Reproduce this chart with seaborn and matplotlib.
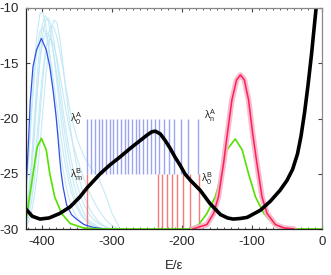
import numpy as np
import pandas as pd
import matplotlib
matplotlib.use("Agg")
import matplotlib.pyplot as plt
import seaborn as sns

# ---------------- data ----------------
black_E = [-423, -414, -403, -390, -375, -360, -346, -336, -317, -303, -289, -274, -260,
           -250, -243, -238, -231, -224, -217, -210, -203, -196, -188, -174, -160, -145,
           -135, -127, -117, -107, -88, -74, -60, -50, -42, -35, -30, -25, -20, -15, -10, -6]
black_v = [-28.2, -28.85, -29.1, -29.0, -28.6, -28.0, -27.1, -26.3, -25.0, -24.2, -23.5, -22.7, -22.0,
           -21.5, -21.2, -21.15, -21.4, -22.0, -22.7, -23.5, -24.2, -25.0, -25.6, -26.5, -27.7, -28.7,
           -29.0, -29.1, -29.05, -28.95, -28.3, -27.5, -26.5, -25.6, -24.6, -23.2, -21.6, -19.5, -17.0,
           -14.2, -11.0, -8.5]

blue_E = [-423, -421, -419, -417, -413, -408, -401, -394, -389, -384, -380, -377, -375,
          -373, -370, -365, -358, -351, -340, -327, -310]
blue_v = [-26.2, -24.0, -21.5, -18.5, -15.3, -13.8, -12.75, -13.8, -15.3, -17.6, -19.8, -21.9, -23.5,
          -24.8, -26.2, -27.8, -28.7, -29.1, -29.6, -29.85, -30.0]

green_E = [-423, -418, -413, -407, -401, -394, -389, -382, -372, -360, -341, -320, -190,
           -176, -164.5, -152.6, -143, -136, -124, -114, -105, -95, -83, -69, -55, -40, 0]
green_v = [-29.3, -27.1, -25.0, -22.6, -21.8, -22.85, -25.0, -27.1, -28.6, -29.5, -29.9, -30.0, -30.0,
           -29.6, -28.6, -27.1, -25.0, -22.85, -21.85, -22.85, -25.0, -27.1, -28.6, -29.6, -29.9, -30.0, -30.0]

red_E = [-185, -164.5, -155, -148, -140.7, -135.5, -128.7, -122, -116.5, -111, -105, -99,
         -93, -85.7, -78.5, -66.6, -54.7, -40]
red_v = [-30.0, -29.6, -28.6, -27.1, -24.05, -21.5, -18.3, -16.5, -16.06, -16.5, -18.3, -21.4,
         -24.05, -27.1, -28.6, -29.6, -29.9, -30.0]

cyan_E = [-423, -419, -415, -411, -407, -403, -399, -395, -391, -387, -383, -379, -375, -371,
          -367, -363, -359, -355, -350, -345, -340, -335, -330, -320, -310, -300, -290]
cyan_1 = [-27.0, -23.5, -19.0, -15.0, -12.2, -10.5, -10.4, -11.5, -13.3, -15.6, -18.0, -20.3, -22.4, -24.2,
          -25.7, -26.9, -27.8, -28.4, -29.0, -29.4, -29.6, -29.8, -29.9, -30.0, -30.0, -30.0, -30.0]
cyan_2 = [-29.0, -27.5, -25.0, -21.5, -17.8, -14.5, -12.3, -11.1, -10.9, -11.6, -13.0, -14.8, -16.8, -18.8,
          -20.6, -22.2, -23.6, -24.8, -26.0, -27.0, -27.8, -28.4, -28.9, -29.5, -29.8, -30.0, -30.0]
cyan_3 = [-29.6, -28.8, -27.5, -25.5, -22.8, -19.6, -16.5, -14.0, -12.3, -11.6, -11.8, -12.6, -13.8, -15.2,
          -16.8, -18.2, -19.6, -20.6, -21.8, -22.7, -23.4, -24.0, -24.5, -25.3, -26.8, -28.6, -29.8]
cyan_4 = [-29.8, -29.3, -28.4, -27.0, -25.0, -22.4, -19.4, -16.4, -13.9, -12.0, -11.1, -11.3, -12.6, -14.6,
          -16.9, -19.1, -21.1, -22.8, -24.5, -25.9, -27.0, -27.8, -28.4, -29.3, -29.8, -30.0, -30.0]
cyan_5 = [-28.4, -26.5, -23.8, -20.6, -17.4, -14.8, -13.0, -12.3, -12.3, -13.0, -14.3, -16.0, -17.9, -19.8,
          -21.6, -23.2, -24.6, -25.8, -27.0, -27.9, -28.6, -29.1, -29.4, -29.8, -30.0, -30.0, -30.0]
cyan_6 = [-26.5, -23.3, -19.6, -16.2, -13.6, -12.1, -11.7, -12.2, -13.4, -15.0, -16.9, -18.9, -20.8, -22.6,
          -24.1, -25.4, -26.5, -27.3, -28.1, -28.7, -29.1, -29.4, -29.6, -29.9, -30.0, -30.0, -30.0]
cyan_7 = [-29.2, -28.2, -26.6, -24.3, -21.4, -18.4, -15.7, -13.8, -12.9, -12.8, -13.4, -14.5, -15.9, -17.4,
          -18.9, -20.3, -21.5, -22.5, -23.6, -24.6, -25.5, -26.3, -27.0, -28.2, -29.1, -29.7, -30.0]
cyan_8 = [-28.8, -26.8, -23.8, -20.0, -16.2, -13.1, -11.3, -10.7, -11.2, -12.6, -14.5, -16.7, -18.9, -21.0,
          -22.9, -24.5, -25.8, -26.8, -27.8, -28.5, -29.0, -29.3, -29.6, -29.9, -30.0, -30.0, -30.0]
cyan_curves = [cyan_1, cyan_2, cyan_3, cyan_4, cyan_5, cyan_6, cyan_7, cyan_8]

levels_A = [-335.5, -330.2, -324.5, -318.8, -314.0, -308.7, -303.4, -298.3, -292.6, -287.0,
            -281.9, -276.8, -271.5, -266.2, -261.0, -255.3, -250.4, -244.3, -238.5, -232.4,
            -225.6, -218.5, -210.9, -201.7, -191.7, -176.5]
levels_B = [-336.0, -235.0, -228.5, -221.8, -214.6, -207.4, -198.4, -188.4, -175.8]

x_ticks = [-400, -300, -200, -100, 0]
y_ticks = [-30, -25, -20, -15, -10]

# ---------------- style ----------------
sns.set_style("ticks")
plt.rcParams['font.family'] = ['Liberation Sans', 'DejaVu Sans']
plt.rcParams['mathtext.fontset'] = 'custom'
plt.rcParams['mathtext.rm'] = 'Liberation Sans'
plt.rcParams['mathtext.it'] = 'Liberation Sans'
plt.rcParams['mathtext.bf'] = 'Liberation Sans:bold'

fig = plt.figure(figsize=(3.31, 2.75), dpi=100)
ax = fig.add_axes([26 / 331, 1 - 229 / 275, (322 - 26) / 331, (229 - 8) / 275])

# cyan ensemble
for cv in cyan_curves:
    sns.lineplot(x=cyan_E, y=cv, ax=ax, color='#bfe8f5', lw=0.8, alpha=0.9)

# level lines
ax.vlines(levels_A, -25, -20, colors='#9ba6f2', lw=1.0)
ax.vlines(levels_B, -30, -25, colors='#f77a7a', lw=1.0)

# blue, green
sns.lineplot(x=blue_E, y=blue_v, ax=ax, color='#3050e8', lw=0.9)
sns.lineplot(x=green_E, y=green_v, ax=ax, color='#55e000', lw=1.2)
# pink band + red
sns.lineplot(x=red_E, y=red_v, ax=ax, color='#f9b4cf', lw=4.0, alpha=0.9)
sns.lineplot(x=red_E, y=red_v, ax=ax, color='#ff2050', lw=1.1)
# black potential
sns.lineplot(x=black_E, y=black_v, ax=ax, color='black', lw=2.6)

# labels
ax.text(-342, -20.0, r'$\lambda_0^A$', fontsize=7.5, ha='right', va='center', color='#222222')
ax.text(-168, -19.7, r'$\lambda_n^A$', fontsize=7.5, ha='left', va='center', color='#222222')
ax.text(-342, -25.1, r'$\lambda_m^B$', fontsize=7.5, ha='right', va='center', color='#222222')
ax.text(-173, -25.4, r'$\lambda_0^B$', fontsize=7.5, ha='left', va='center', color='#222222')

ax.set_xlim(-423, 0)
ax.set_ylim(-30, -10)
ax.set_xticks(x_ticks)
ax.set_yticks(y_ticks)
ax.set_xticklabels([str(t) for t in x_ticks])
ax.set_yticklabels([str(t) for t in y_ticks])
ax.set_xticks(np.arange(-420, 1, 10), minor=True)
ax.tick_params(axis='both', which='major', direction='in', length=3, width=0.8,
               labelsize=9.5, pad=5, top=True, right=True, color='#444444')
ax.tick_params(axis='x', which='minor', direction='in', length=1.5, width=0.6,
               top=True, bottom=True, color='#444444')
ax.set_xlabel('E/\u03b5', fontsize=9.5, labelpad=9)
ax.set_ylabel('')
for side in ['left', 'bottom']:
    ax.spines[side].set_color('#222222')
    ax.spines[side].set_linewidth(0.9)
for side in ['top', 'right']:
    ax.spines[side].set_visible(True)
    ax.spines[side].set_color('#888888')
    ax.spines[side].set_linewidth(0.9)

fig.savefig('out.png', dpi=100)
